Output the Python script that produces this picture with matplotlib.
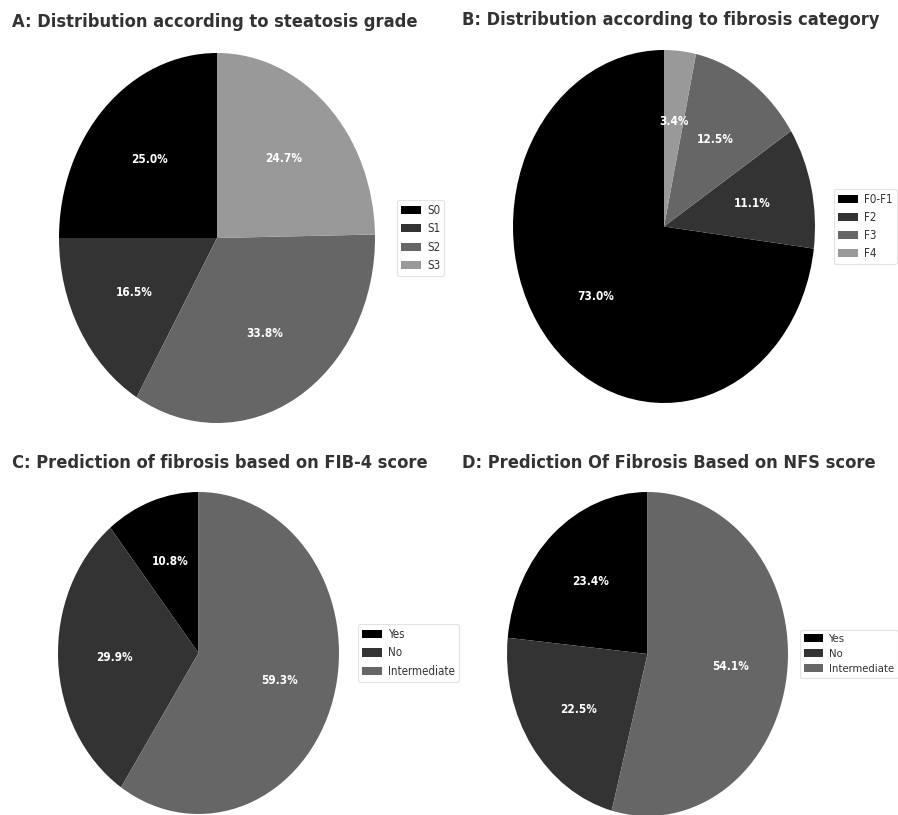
import matplotlib
matplotlib.use("Agg")
from matplotlib import pyplot as plt

# data
steatosis_labels = ["S0", "S1", "S2", "S3"]
steatosis_pct = [25.0, 16.5, 33.8, 24.7]

fibrosis_labels = ["F0-F1", "F2", "F3", "F4"]
fibrosis_pct = [73.0, 11.1, 12.5, 3.4]

fib4_labels = ["Yes", "No", "Intermediate"]
fib4_pct = [10.8, 29.9, 59.3]

nfs_labels = ["Yes", "No", "Intermediate"]
nfs_pct = [23.4, 22.5, 54.1]

greys = ["#000000", "#333333", "#666666", "#999999"]
TEXT = "#333333"

W, H = 898, 815
fig = plt.figure(figsize=(W / 100, H / 100), dpi=100)


def pix_axes(left, top, right, bottom):
    return fig.add_axes([left / W, 1 - bottom / H, (right - left) / W, (bottom - top) / H])


def draw_pie(box, values, labels, title, title_xy, gap, leg_size=8.3):
    ax = pix_axes(*box)
    wedges, texts, autotexts = ax.pie(values, colors=greys[:len(values)], startangle=90,
                                      counterclock=True, autopct="%1.1f%%", pctdistance=0.6,
                                      textprops=dict(color="white", fontsize=8.5, fontweight="bold",
                                                     fontstretch="condensed"),
                                      wedgeprops=dict(linewidth=0))
    ax.set_aspect("auto")
    ax.set_xlim(-1, 1)
    ax.set_ylim(-1, 1)
    width = box[2] - box[0]
    leg = ax.legend(wedges, labels, loc="center left", bbox_to_anchor=(1 + gap / width, 0.5),
                    borderaxespad=0, frameon=True, fancybox=True,
                    handlelength=1.7, handleheight=0.7, handletextpad=0.55,
                    labelspacing=0.45, borderpad=0.35,
                    prop=dict(size=leg_size, stretch="condensed"))
    leg.get_frame().set_edgecolor("#dddddd")
    leg.get_frame().set_linewidth(0.8)
    for t in leg.get_texts():
        t.set_color(TEXT)
    fig.text(title_xy[0] / W, 1 - title_xy[1] / H, title, ha="left", va="center",
             fontsize=13.1, fontweight="bold", color=TEXT, fontstretch="condensed")
    return ax


draw_pie((59, 53, 375, 423), steatosis_pct, steatosis_labels,
         "A: Distribution according to steatosis grade", (12, 22), 22)
draw_pie((513, 50, 815, 403), fibrosis_pct, fibrosis_labels,
         "B: Distribution according to fibrosis category", (462, 20), 19)
draw_pie((58, 492, 339, 814), fib4_pct, fib4_labels,
         "C: Prediction of fibrosis based on FIB-4 score", (12, 463), 19)
draw_pie((507, 492, 788, 816), nfs_pct, nfs_labels,
         "D: Prediction Of Fibrosis Based on NFS score", (462, 463), 12, leg_size=8.1)

plt.savefig("out.png", dpi=100)
